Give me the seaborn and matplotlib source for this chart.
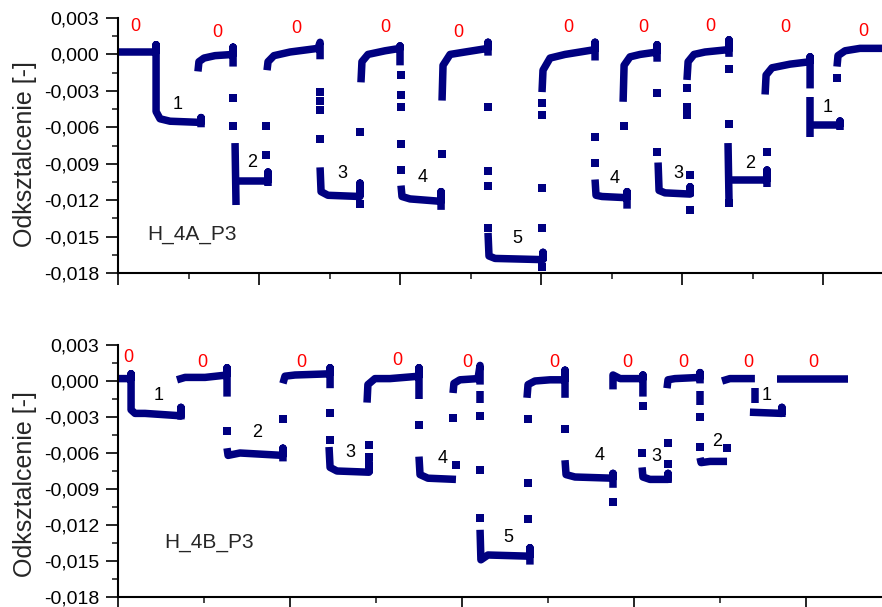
import matplotlib
matplotlib.use("Agg")
import matplotlib.pyplot as plt
import seaborn as sns
from matplotlib.ticker import MultipleLocator, FixedLocator, FixedFormatter

# ---------------- data ----------------
NAVY = "#000080"

# panel A (H_4A_P3): continuous dense traces (x, strain)
A_traces = [
    ([0, 0.270, 0.270, 0.270, 0.298, 0.369, 0.589, 0.589, 0.589],
     [0.0002, 0.0002, 0.0008, -0.0047, -0.0053, -0.0055, -0.0056, -0.0052, -0.0060]),
    ([0.567, 0.574, 0.610, 0.688, 0.816, 0.816, 0.816],
     [-0.0014, -0.0006, -0.0003, -0.0001, 0.0000, 0.0006, -0.0010]),
    ([0.830, 0.837], [-0.0073, -0.0124]),
    ([0.844, 1.064, 1.064, 1.064], [-0.0104, -0.0104, -0.0097, -0.0108]),
    ([1.057, 1.064, 1.106, 1.220, 1.418, 1.433, 1.433],
     [-0.0013, -0.0006, -0.0001, 0.0002, 0.0005, 0.0010, -0.0004]),
    ([1.433, 1.440, 1.489, 1.716, 1.716, 1.716],
     [-0.0093, -0.0113, -0.0116, -0.0117, -0.0106, -0.0117]),
    ([1.723, 1.730, 1.773, 1.894, 2.000, 2.000, 2.000],
     [-0.0023, -0.0006, 0.0000, 0.0003, 0.0005, 0.0007, -0.0009]),
    ([2.007, 2.014, 2.071, 2.291, 2.291, 2.291],
     [-0.0108, -0.0117, -0.0119, -0.0121, -0.0113, -0.0128]),
    ([2.298, 2.305, 2.355, 2.461, 2.624, 2.624, 2.624],
     [-0.0038, -0.0009, 0.0000, 0.0002, 0.0005, 0.0010, -0.0001]),
    ([2.624, 2.631, 2.674, 3.014, 3.014, 3.014],
     [-0.0147, -0.0166, -0.0168, -0.0169, -0.0163, -0.0170]),
    ([3.007, 3.014, 3.064, 3.170, 3.383, 3.383, 3.383],
     [-0.0031, -0.0013, -0.0003, 0.0000, 0.0004, 0.0010, -0.0005]),
    ([3.383, 3.390, 3.433, 3.610, 3.610, 3.610],
     [-0.0103, -0.0116, -0.0117, -0.0118, -0.0113, -0.0127]),
    ([3.582, 3.589, 3.631, 3.702, 3.823, 3.823, 3.823],
     [-0.0039, -0.0009, -0.0002, 0.0000, 0.0002, 0.0008, -0.0006]),
    ([3.830, 3.837, 3.879, 4.057, 4.057, 4.057],
     [-0.0089, -0.0112, -0.0114, -0.0115, -0.0109, -0.0117]),
    ([4.035, 4.043, 4.085, 4.163, 4.333, 4.333, 4.333],
     [-0.0021, -0.0006, 0.0000, 0.0002, 0.0004, 0.0012, -0.0002]),
    ([4.326, 4.333], [-0.0073, -0.0120]),
    ([4.340, 4.603, 4.603, 4.603], [-0.0103, -0.0103, -0.0095, -0.0109]),
    ([4.589, 4.596, 4.638, 4.766, 4.908, 4.908, 4.908],
     [-0.0033, -0.0017, -0.0011, -0.0008, -0.0006, -0.0002, -0.0028]),
    ([4.908, 4.908], [-0.0035, -0.0068]),
    ([4.915, 5.121, 5.121, 5.121], [-0.0058, -0.0058, -0.0055, -0.0062]),
    ([5.099, 5.106, 5.156, 5.262, 5.418], [-0.0010, -0.0001, 0.0003, 0.0005, 0.0005]),
]
# panel A: isolated points during loading / unloading
A_dots_x = [0.816, 0.816, 1.050, 1.050, 1.433, 1.433, 1.433, 1.433, 1.716, 1.716,
            2.007, 2.007, 2.007, 2.007, 2.007, 2.298, 2.624, 2.624, 2.624, 2.624,
            3.007, 3.007, 3.007, 3.007, 3.007, 3.383, 3.383, 3.589, 3.823, 3.823,
            4.057, 4.057, 4.035, 4.035, 4.035, 4.333, 4.333, 4.333, 4.603, 5.099]
A_dots_y = [-0.0036, -0.0059, -0.0083, -0.0059, -0.0031, -0.0038, -0.0046, -0.0070, -0.0123, -0.0064,
            -0.0017, -0.0033, -0.0043, -0.0074, -0.0095, -0.0082, -0.0043, -0.0096, -0.0108, -0.0143,
            -0.0110, -0.0143, -0.0175, -0.0040, -0.0050, -0.0068, -0.0089, -0.0059, -0.0032, -0.0080,
            -0.0128, -0.0099, -0.0028, -0.0043, -0.0050, -0.0012, -0.0057, -0.0122, -0.0080, -0.0019]
A_zero_x = [0.121, 0.702, 1.262, 1.894, 2.411, 3.191, 3.723, 4.199, 4.730, 5.284]
A_zero_y = [0.00227, 0.00177, 0.00210, 0.00218, 0.00177, 0.00218, 0.00218, 0.00227, 0.00218, 0.00186]
A_step_labels = ["1", "2", "3", "4", "5", "4", "3", "2", "1"]
A_step_x = [0.426, 0.950, 1.589, 2.163, 2.830, 3.525, 3.972, 4.482, 5.035]
A_step_y = [-0.00416, -0.00886, -0.00977, -0.0101, -0.01513, -0.01018, -0.00977, -0.00895, -0.00433]

# panel B (H_4B_P3)
B_traces = [
    ([0, 0.076, 0.076, 0.076, 0.099, 0.157, 0.366, 0.366, 0.366],
     [0.0002, 0.0002, 0.0006, -0.0024, -0.0027, -0.0027, -0.0029, -0.0022, -0.0032]),
    ([0.343, 0.390, 0.506, 0.634, 0.634, 0.634],
     [0.0001, 0.0003, 0.0003, 0.0005, 0.0011, -0.0013]),
    ([0.634, 0.640, 0.709, 0.959, 0.959, 0.959],
     [-0.0056, -0.0062, -0.0060, -0.0062, -0.0056, -0.0067]),
    ([0.959, 0.971, 1.029, 1.233, 1.233, 1.233],
     [-0.0002, 0.0004, 0.0005, 0.0006, 0.0011, -0.0006]),
    ([1.227, 1.233, 1.273, 1.459, 1.459, 1.459],
     [-0.0055, -0.0072, -0.0075, -0.0076, -0.0068, -0.0077]),
    ([1.448, 1.453, 1.494, 1.581, 1.750, 1.750, 1.750],
     [-0.0018, -0.0003, 0.0002, 0.0002, 0.0004, 0.0011, -0.0015]),
    ([1.750, 1.756, 1.802, 1.965], [-0.0063, -0.0078, -0.0081, -0.0082]),
    ([1.948, 1.953, 1.988, 2.093, 2.105, 2.105],
     [-0.0010, -0.0002, 0.0001, 0.0002, 0.0013, -0.0003]),
    ([2.105, 2.105], [-0.0008, -0.0018]),
    ([2.105, 2.110, 2.151, 2.395, 2.395, 2.395],
     [-0.0124, -0.0149, -0.0145, -0.0146, -0.0139, -0.0153]),
    ([2.378, 2.384, 2.424, 2.512, 2.599, 2.599, 2.599],
     [-0.0014, -0.0003, 0.0000, 0.0001, 0.0001, 0.0009, -0.0014]),
    ([2.599, 2.605, 2.657, 2.878, 2.878, 2.878],
     [-0.0066, -0.0078, -0.0080, -0.0081, -0.0077, -0.0089]),
    ([2.878, 2.878, 2.919, 3.052, 3.052, 3.052],
     [-0.0007, 0.0005, 0.0002, 0.0002, 0.0005, -0.0013]),
    ([3.047, 3.052, 3.093, 3.198, 3.198, 3.198],
     [-0.0072, -0.0080, -0.0082, -0.0082, -0.0077, -0.0085]),
    ([3.192, 3.198, 3.238, 3.384, 3.384, 3.384],
     [-0.0006, 0.0001, 0.0002, 0.0003, 0.0007, -0.0002]),
    ([3.384, 3.384], [-0.0008, -0.0020]),
    ([3.384, 3.390, 3.442, 3.541], [-0.0064, -0.0068, -0.0067, -0.0067]),
    ([3.512, 3.558, 3.703], [0.0000, 0.0002, 0.0002]),
    ([3.703, 3.703], [-0.0006, -0.0018]),
    ([3.674, 3.860, 3.860, 3.860], [-0.0026, -0.0027, -0.0022, -0.0030]),
    ([3.831, 4.244], [0.0002, 0.0002]),
]
B_dots_x = [0.634, 0.959, 1.233, 1.233, 1.459, 1.459, 1.750, 1.965, 1.948, 2.105,
            2.105, 2.105, 2.384, 2.384, 2.384, 2.599, 2.878, 3.052, 3.047, 3.198,
            3.198, 3.384, 3.384, 3.541]
B_dots_y = [-0.0042, -0.0032, -0.0027, -0.0049, -0.0053, -0.0063, -0.0037, -0.0070, -0.0031, -0.0029,
            -0.0074, -0.0114, -0.0032, -0.0085, -0.0115, -0.0040, -0.0101, -0.0021, -0.0060, -0.0052,
            -0.0069, -0.0030, -0.0055, -0.0056]
B_zero_x = [0.058, 0.488, 1.064, 1.622, 2.029, 2.535, 2.959, 3.285, 3.663, 4.041]
B_zero_y = [0.00192, 0.00158, 0.00158, 0.00167, 0.00158, 0.00158, 0.00158, 0.00158, 0.00158, 0.00158]
B_step_labels = ["1", "2", "3", "4", "5", "4", "3", "2", "1"]
B_step_x = [0.238, 0.808, 1.349, 1.890, 2.267, 2.802, 3.128, 3.483, 3.773]
B_step_y = [-0.00117, -0.00433, -0.00592, -0.00642, -0.0130, -0.00617, -0.00633, -0.00508, -0.00125]

y_ticks = [-0.018, -0.015, -0.012, -0.009, -0.006, -0.003, 0.0, 0.003]
y_tick_labels = ["-0,018", "-0,015", "-0,012", "-0,009", "-0,006", "-0,003", "0,000", "0,003"]
y_label = "Odksztalcenie [-]"

# ---------------- styling ----------------
sns.set_style("ticks")
plt.rcParams["font.family"] = ["Liberation Sans", "DejaVu Sans"]

fig = plt.figure(figsize=(8.82, 6.07), dpi=100)
ax1 = fig.add_axes([118 / 882, 1 - 273 / 607, 764 / 882, 255 / 607])
ax2 = fig.add_axes([118 / 882, 1 - 597 / 607, 764 / 882, 252 / 607])


def draw(ax, traces, dx, dy, zx, zy, sx, sy, slabels, name, name_xy, xmax, label_y):
    for xs, ys in traces:
        sns.lineplot(x=xs, y=ys, sort=False, estimator=None, color=NAVY,
                     linewidth=5.4, solid_capstyle="butt", solid_joinstyle="round",
                     ax=ax, legend=False)
    sns.scatterplot(x=dx, y=dy, marker="s", s=30, color=NAVY, linewidth=0,
                    ax=ax, legend=False)
    for x, y in zip(zx, zy):
        ax.text(x, y, "0", color="red", fontsize=13, ha="center", va="center")
    for x, y, t in zip(sx, sy, slabels):
        ax.text(x, y, t, color="black", fontsize=13, ha="center", va="center")
    ax.text(name_xy[0], name_xy[1], name, fontsize=15, ha="center", va="center")

    ax.set_xlim(0, xmax)
    ax.set_ylim(-0.018, 0.003)
    ax.yaxis.set_major_locator(FixedLocator(y_ticks))
    ax.yaxis.set_major_formatter(FixedFormatter(y_tick_labels))
    ax.yaxis.set_minor_locator(MultipleLocator(0.0015))
    ax.xaxis.set_major_locator(MultipleLocator(1.0))
    ax.xaxis.set_minor_locator(MultipleLocator(0.5))
    ax.set_xticklabels([])
    ax.tick_params(which="major", direction="out", length=8.5, width=1.2,
                   labelsize=14, pad=5, colors="black")
    ax.tick_params(which="minor", direction="out", length=4.3, width=1.2)
    for s in ("top", "right"):
        ax.spines[s].set_visible(False)
    for s in ("left", "bottom"):
        ax.spines[s].set_linewidth(1.5)
        ax.spines[s].set_color("black")
    ax.set_xlabel("")
    ax.set_ylabel(y_label, fontsize=18)
    ax.yaxis.label.set_verticalalignment("center")
    ax.yaxis.set_label_coords(-0.122, label_y)
    ax.set_facecolor("white")


draw(ax1, A_traces, A_dots_x, A_dots_y, A_zero_x, A_zero_y, A_step_x, A_step_y,
     A_step_labels, "H_4A_P3", (0.525, -0.0148), 5.418, 0.467)
draw(ax2, B_traces, B_dots_x, B_dots_y, B_zero_x, B_zero_y, B_step_x, B_step_y,
     B_step_labels, "H_4B_P3", (0.529, -0.01342), 4.442, 0.45)

fig.savefig("out.png", dpi=100, facecolor="white")
